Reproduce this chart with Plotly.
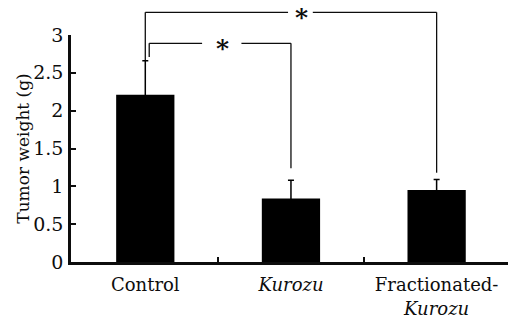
import plotly.graph_objects as go

# ---- data ----
categories = ["Control", "<i>Kurozu</i>", "Fractionated-<br><i>Kurozu</i>"]
means = [2.21, 0.84, 0.95]
errors = [0.45, 0.24, 0.14]
y_ticks = [0, 0.5, 1, 1.5, 2, 2.5, 3]
y_ticktext = ["0", "0.5", "1", "1.5", "2", "2.5", "3"]
# significance brackets: (left cat, right cat, bracket height, left foot, right foot, star x, gap from, gap to, left x offset)
brackets = [
    (0, 2, 3.30, 2.67, 1.18, 1.07, 0.98, 1.15, 0.0),
    (0, 1, 2.89, 2.71, 1.24, 0.53, 0.39, 0.66, 0.027),
]

X0, X1 = -0.51, 2.49
Y1 = 3.0
FONT = "DejaVu Serif"
INK = "#0d0d0d"

def xp(x):
    return (x - X0) / (X1 - X0)

def yp(v):
    return v / Y1

xs = list(range(len(categories)))

fig = go.Figure()
fig.add_trace(go.Bar(
    x=xs, y=means, width=0.4,
    marker=dict(color="black", line=dict(width=0)),
    error_y=dict(type="data", array=errors, symmetric=True,
                 color="black", thickness=1.5, width=3),
))

shapes = []
annotations = []
lw = 1.3
for (a, b, h, fa, fb, sx, g0, g1, off) in brackets:
    la = a + off
    shapes.append(dict(type="line", xref="paper", yref="paper",
                       x0=xp(la), x1=xp(la), y0=yp(fa), y1=yp(h),
                       line=dict(color=INK, width=lw)))
    shapes.append(dict(type="line", xref="paper", yref="paper",
                       x0=xp(la), x1=xp(g0), y0=yp(h), y1=yp(h),
                       line=dict(color=INK, width=lw)))
    shapes.append(dict(type="line", xref="paper", yref="paper",
                       x0=xp(g1), x1=xp(b), y0=yp(h), y1=yp(h),
                       line=dict(color=INK, width=lw)))
    shapes.append(dict(type="line", xref="paper", yref="paper",
                       x0=xp(b), x1=xp(b), y0=yp(h), y1=yp(fb),
                       line=dict(color=INK, width=lw)))
    annotations.append(dict(text="<b>*</b>", xref="paper", yref="paper",
                            x=xp(sx), y=yp(h), xanchor="center", yanchor="middle",
                            yshift=-5, showarrow=False,
                            font=dict(family=FONT, size=25, color=INK)))

fig.update_layout(
    width=508, height=320,
    margin=dict(l=71, r=0, t=35, b=58),
    paper_bgcolor="white", plot_bgcolor="white",
    showlegend=False,
    font=dict(family=FONT, size=18, color=INK),
    shapes=shapes, annotations=annotations,
    xaxis=dict(range=[X0, X1], tickvals=xs, ticktext=categories,
               showline=True, linecolor=INK, linewidth=2.5,
               ticks="", showgrid=False, zeroline=False,
               ticklabelstandoff=5,
               tickfont=dict(family=FONT, size=18, color=INK),
               minor=dict(tickvals=[0.5, 1.5], ticks="inside", ticklen=5,
                          tickwidth=2, tickcolor=INK, showgrid=False)),
    yaxis=dict(range=[0, Y1], tickvals=y_ticks, ticktext=y_ticktext,
               showline=True, linecolor=INK, linewidth=2.5,
               ticks="inside", ticklen=5, tickwidth=2, tickcolor=INK,
               showgrid=False, zeroline=False,
               ticklabelstandoff=1,
               tickfont=dict(family=FONT, size=19, color=INK),
               title=dict(text="Tumor weight (g)", standoff=0,
                          font=dict(family=FONT, size=17, color=INK))),
)

fig.write_html("out.html")
